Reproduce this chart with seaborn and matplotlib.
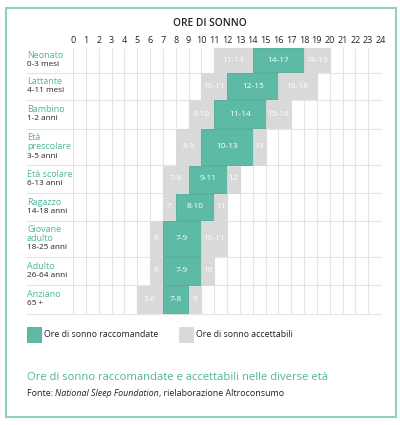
import matplotlib
matplotlib.use('Agg')
import matplotlib.pyplot as plt
from matplotlib.patches import Rectangle
import seaborn as sns
import numpy as np

# age groups (teal name) and age span (black)
groups = ['Neonato', 'Lattante', 'Bambino', 'Età\nprescolare', 'Età scolare',
          'Ragazzo', 'Giovane\nadulto', 'Adulto', 'Anziano']
ages = ['0-3 mesi', '4-11 mesi', '1-2 anni', '3-5 anni', '6-13 anni',
        '14-18 anni', '18-25 anni', '26-64 anni', '65 +']

# hour ranges (first, last) per group
low_acc = [(11, 13), (10, 11), (9, 10), (8, 9), (7, 8), (7, 7), (6, 6), (6, 6), (5, 6)]
recommended = [(14, 17), (12, 15), (11, 14), (10, 13), (9, 11), (8, 10), (7, 9), (7, 9), (7, 8)]
high_acc = [(18, 19), (16, 18), (15, 16), (14, 14), (12, 12), (11, 11), (10, 11), (10, 10), (9, 9)]
hours = list(range(25))

TEAL = '#5cbaa5'
TEAL_EDGE = '#4eab96'
TEAL_TXT = '#4fb59e'
GREY = '#d9d9d9'
LINE = '#e4e4e4'

# row heights in pixels (3-line labels get taller rows)
row_h = np.array([25, 27, 29, 36.5, 28, 27.5, 36, 28.5, 28.5])
tops = np.concatenate([[0], np.cumsum(row_h)[:-1]])
centers = tops + row_h / 2
total_h = row_h.sum()

sns.set_theme(style='white')
plt.rcParams['font.family'] = ['Open Sans', 'DejaVu Sans']

W, H = 400, 425
fig = plt.figure(figsize=(W / 100, H / 100), dpi=100)
fig.patch.set_facecolor('white')
ax = fig.add_axes([73 / W, 1 - 313.5 / H, 308 / W, total_h / H])
ax.set_xlim(0, 24)
ax.set_ylim(total_h, 0)
sns.despine(ax=ax, left=True, bottom=True, top=True, right=True)

# grid
ax.vlines(hours, 0, total_h, color=LINE, lw=0.8, zorder=0)
ax.hlines(list(tops[1:]) + [total_h], -3.66, 24, color=LINE, lw=0.8, zorder=0, clip_on=False)


def draw_segments(ranges, color, edge):
    starts = np.array([r[0] for r in ranges])
    ends = np.array([r[1] for r in ranges]) + 1
    bars = ax.barh(tops + 0.5, ends - starts, height=row_h - 1, left=starts,
                   align='edge', color=color, edgecolor=edge, lw=0.6, zorder=2)
    labels = [f'{a}-{b}' if a != b else f'{a}' for a, b in ranges]
    ax.bar_label(bars, labels=labels, label_type='center', color='white', fontsize=6)


draw_segments(low_acc, GREY, GREY)
draw_segments(recommended, TEAL, TEAL_EDGE)
draw_segments(high_acc, GREY, GREY)

ax.xaxis.tick_top()
ax.set_xticks(hours)
ax.set_xticklabels([str(h) for h in hours])
ax.tick_params(axis='x', length=0, pad=1.5, labelsize=6.5, colors='#222222')
ax.set_yticks([])

# row labels
for g, a, c in zip(groups, ages, centers):
    lines = g.split('\n') + [a]
    n = len(lines)
    for i, txt in enumerate(lines):
        y = c + (i - (n - 1) / 2) * 9.4
        ax.text(-3.58, y, txt, ha='left', va='center', clip_on=False,
                fontsize=6.5 if i < n - 1 else 5.9,
                color=TEAL_TXT if i < n - 1 else '#222222')

fig.text(210 / W, 1 - 23 / H, 'ORE DI SONNO', ha='center', va='center',
         fontsize=7.3, weight='semibold', color='#222222')

# legend
fig.add_artist(Rectangle((27 / W, 1 - 342 / H), 14 / W, 15 / H, transform=fig.transFigure,
                         facecolor=TEAL, edgecolor=TEAL_EDGE, lw=0.6))
fig.text(44 / W, 1 - 334.5 / H, 'Ore di sonno raccomandate', va='center', fontsize=6.3, color='#222222')
fig.add_artist(Rectangle((179 / W, 1 - 342 / H), 14 / W, 15 / H, transform=fig.transFigure,
                         facecolor=GREY, edgecolor=GREY, lw=0.6))
fig.text(196 / W, 1 - 334.5 / H, 'Ore di sonno accettabili', va='center', fontsize=6.3, color='#222222')

# caption and source
fig.text(27 / W, 1 - 377 / H, 'Ore di sonno raccomandate e accettabili nelle diverse età',
         va='center', fontsize=8.1, color=TEAL_TXT)
t1 = fig.text(27 / W, 1 - 396 / H, 'Fonte: ', va='baseline', fontsize=6.4, color='#222222')
t2 = ax.annotate('National Sleep Foundation', xy=(1, 0), xycoords=t1, va='bottom', ha='left',
                 fontsize=6.4, style='italic', color='#222222', annotation_clip=False)
ax.annotate(', rielaborazione Altroconsumo', xy=(1, 0), xycoords=t2, va='bottom', ha='left',
            fontsize=6.4, color='#222222', annotation_clip=False)

# outer frame
fig.add_artist(Rectangle((5.5 / W, 1 - 417 / H), 390 / W, 409 / H, transform=fig.transFigure,
                         fill=False, edgecolor='#8fd0c2', lw=1.5))

fig.savefig('out.png', dpi=100)
